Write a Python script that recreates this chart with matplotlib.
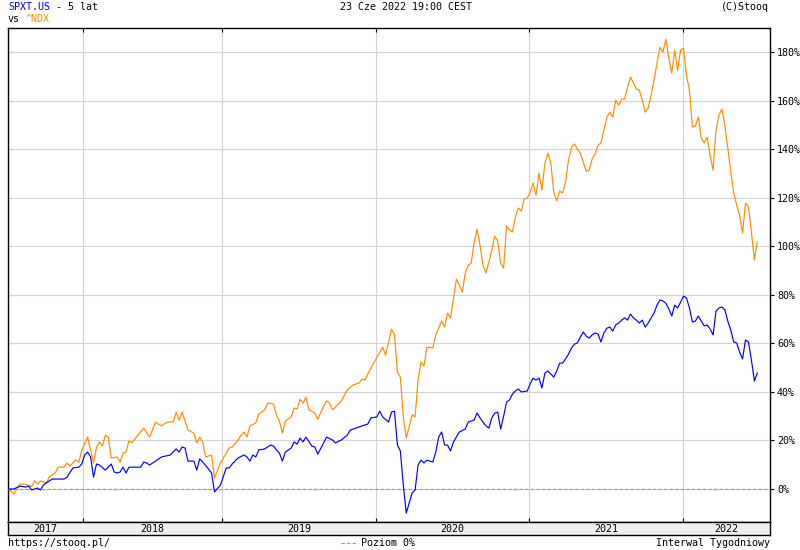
import numpy as np
import matplotlib
matplotlib.use("Agg")
import matplotlib.pyplot as plt
from matplotlib.lines import Line2D

# weekly points, x = week number since start (mid 2017), y = % change
ndx_weeks = [0, 2, 4, 6, 8, 9, 10, 11, 13, 14, 16, 17, 19, 20, 21, 23, 24, 25, 27, 29,
             30, 31, 32, 33, 34, 35, 37, 38, 39, 40, 41, 42, 44, 46, 48, 50, 52, 54, 56, 57,
             58, 59, 61, 63, 64, 65, 66, 67, 69, 70, 72, 75, 76, 78, 79, 80, 81, 82, 84, 85,
             87, 88, 90, 91, 92, 93, 94, 96, 97, 98, 99, 100, 101, 102, 104, 105, 107, 108, 109, 110,
             112, 113, 115, 117, 119, 120, 121, 123, 124, 127, 128, 130, 131, 132, 133, 134, 135, 137, 138, 139,
             140, 141, 142, 144, 145, 147, 148, 149, 150, 152, 153, 154, 155, 156, 157, 158, 159, 160, 161, 162,
             163, 164, 165, 166, 167, 168, 169, 170, 171, 172, 173, 174, 175, 176, 177, 178, 179, 180, 181, 182,
             183, 184, 185, 186, 187, 188, 189, 190, 191, 192, 193, 194, 195, 196, 197, 198, 199, 200, 201, 202,
             203, 204, 205, 206, 207, 208, 209, 210, 211, 212, 213, 214, 215, 216, 217, 218, 219, 220, 221, 222,
             223, 224, 225, 226, 227, 228, 229, 230, 231, 232, 233, 234, 235, 236, 237, 238, 239, 240, 241, 242,
             243, 244, 245, 246, 247, 248, 249, 250, 251, 252, 253, 254]
ndx_vals = [0, -2, 2, 2, 1, 3.3, 2, 3.3, 2.5, 5, 6.6, 9, 9, 10.7, 9.5, 12, 11, 16, 21.4, 10.7,
            17.3, 19.4, 17.7, 22.2, 21.4, 12.8, 13.2, 11, 14.8, 15.2, 19.8, 19, 22.2, 25, 21.4, 27.6, 26, 27.6, 27.6, 31.7,
            28.4, 31.7, 24.3, 23, 19, 21.4, 19.4, 13.2, 14, 4.5, 10.7, 16.9, 17.3, 20.2, 22.2, 23.5, 21.4, 26, 27.2, 30.9,
            32.6, 35.4, 35, 30.5, 28, 23, 28, 29.7, 33.4, 33, 37, 35.4, 37.9, 32.6, 31.3, 28.8, 34.2, 36.3, 35.4, 32.6,
            35, 36.3, 40.8, 42.9, 43.7, 45.3, 44.9, 49.9, 51.9, 58.5, 55.2, 65.9, 63.5, 48.2, 46.1, 29.7, 21, 30.5, 29.7, 44.9,
            52.3, 50.7, 58.5, 58.1, 63.5, 69.2, 66.7, 72.5, 70.5, 86.5, 84, 81.2, 89, 92.3, 93.1, 101.4, 107.1, 100.5, 92.3, 89,
            93.5, 98.5, 104.2, 102.2, 93.1, 91.1, 108.4, 106.7, 105.9, 112, 115.8, 114.5, 119.5, 119.9, 122.4, 126.1, 121.1, 130.2, 123.2, 134.3,
            138.4, 134.3, 122.4, 118.7, 122.8, 122, 126.5, 135.6, 140.9, 142.2, 140.1, 138.4, 134.7, 131, 131.4, 136, 138, 141.7, 142.6, 147.9,
            153.3, 155.3, 153.3, 160.3, 158.2, 160.7, 160.7, 165.6, 169.8, 167.3, 164.8, 164.4, 160.3, 155.3, 157, 162.3, 168.5, 175.5, 182, 180,
            185.4, 177.6, 171.4, 180.9, 172.6, 180.9, 181.7, 170.2, 164.4, 149.2, 149.6, 153.3, 144.6, 142.6, 145, 137.6, 131.4, 147.9, 154.1, 156.6,
            150, 140.5, 130.6, 122, 117, 112.9, 105.5, 117.8, 116.2, 105.9, 94.4, 101.8]

spxt_weeks = [0, 2, 4, 6, 7, 8, 10, 11, 12, 13, 15, 19, 20, 22, 24, 25, 26, 27, 28, 29,
              30, 31, 33, 34, 35, 36, 37, 38, 39, 40, 41, 45, 46, 47, 48, 50, 52, 55, 57, 58,
              59, 60, 61, 63, 64, 65, 66, 68, 69, 70, 72, 74, 75, 76, 78, 80, 81, 82, 83, 84,
              85, 87, 89, 90, 91, 92, 93, 94, 96, 97, 98, 99, 100, 101, 103, 104, 105, 107, 108, 110,
              111, 113, 115, 116, 118, 120, 122, 123, 125, 126, 127, 129, 130, 131, 132, 133, 134, 135, 136, 137,
              138, 139, 140, 141, 142, 143, 144, 145, 146, 147, 148, 149, 150, 151, 153, 155, 156, 158, 159, 160,
              161, 162, 163, 164, 165, 166, 167, 168, 169, 170, 171, 172, 173, 174, 176, 177, 178, 179, 180, 181,
              182, 183, 184, 185, 186, 187, 188, 189, 190, 191, 192, 193, 194, 195, 196, 197, 198, 199, 200, 201,
              202, 203, 204, 205, 206, 207, 208, 209, 210, 211, 212, 213, 214, 215, 216, 217, 218, 219, 220, 221,
              222, 223, 224, 225, 226, 227, 228, 229, 230, 231, 232, 233, 234, 235, 236, 237, 238, 239, 240, 241,
              242, 243, 244, 245, 246, 247, 248, 249, 250, 251, 252, 253, 254]
spxt_vals = [0, 0, 1.2, 0.8, 1.2, -0.4, 0.4, -0.4, 1.6, 2.5, 4.1, 4.1, 4.9, 8.7, 9, 10.3, 14, 15.2, 13.2, 4.9,
             10.3, 9.9, 7.8, 9, 10.3, 7, 6.6, 7, 9, 6.6, 9, 9, 11.1, 10.7, 9.9, 11.5, 13.2, 14, 16.5, 15.2,
             17.3, 16.9, 11.5, 11.5, 7.8, 12.4, 11.1, 8.2, 6.6, -1.2, 1.6, 8.7, 8.7, 10.3, 12.8, 14, 13.2, 11.5, 14, 13.2,
             16.1, 16.5, 18.1, 17.7, 16.1, 14.8, 11.5, 15.2, 16.9, 19.4, 18.5, 21, 19.4, 21.4, 17.7, 17.3, 14.4, 19, 21.4, 20.2,
             19, 20.2, 22.2, 24.3, 25.1, 26, 26.8, 29.3, 29.7, 32.1, 29.7, 27.6, 31.7, 32.1, 18.1, 15.7, 1.6, -9.9, -5.8, -1.6,
             -0.4, 9.9, 11.9, 10.7, 11.9, 11.5, 11.1, 15.2, 21.4, 23.5, 18.1, 18.1, 15.7, 19.4, 23.5, 24.7, 27.6, 28.4, 31.3, 29.3,
             27.6, 26, 25.1, 29.3, 31.3, 31.7, 24.7, 30, 35.8, 36.7, 39.1, 40.4, 41.2, 40, 40.4, 43.3, 45.7, 44.9, 45.7, 41.6,
             47.8, 48.6, 47.4, 46.1, 48.6, 51.9, 51.9, 53.6, 55.6, 58.1, 59.7, 60.2, 62.6, 64.7, 63, 62.2, 63.5, 64.3, 63.9, 60.6,
             64.3, 66.3, 66.7, 65.1, 67.6, 68.4, 69.6, 70.5, 69.6, 72.1, 70.5, 69.6, 68.4, 69.6, 66.7, 68.4, 70.5, 72.5, 75.8, 77.9,
             77.5, 76.6, 74.2, 71.3, 75.8, 74.6, 77, 79.5, 78.7, 74.6, 68.8, 69.2, 71.3, 69.2, 67.2, 67.6, 65.9, 63.5, 73.3, 74.6,
             75, 73.8, 69.2, 65.5, 60.6, 60.2, 56.4, 53.6, 61.4, 60.6, 53.2, 44.5, 47.8]

years = ["2017", "2018", "2019", "2020", "2021", "2022"]
year_starts = [25.4, 72.5, 124.7, 176.6, 228.8]   # week where each new year begins
y_ticks = [0, 20, 40, 60, 80, 100, 120, 140, 160, 180]

X_MAX = 258.3
Y_MIN, Y_MAX = -13.6, 190

BLUE = "#0000ff"
ORANGE = "#ff8c00"
GRID = "#d3d3d3"
FONT = "DejaVu Sans Mono"
FS = 7.2
plt.rcParams['font.family'] = FONT

W, H = 800, 550
fig = plt.figure(figsize=(W / 100, H / 100), dpi=100)
fig.patch.set_facecolor("white")

ax = fig.add_axes([8 / W, 1 - 522 / H, 762 / W, 494 / H])
ax.set_xlim(0, X_MAX)
ax.set_ylim(Y_MIN, Y_MAX)

ax.plot(ndx_weeks, ndx_vals, color=ORANGE, lw=0.85, zorder=3)
ax.plot(spxt_weeks, spxt_vals, color=BLUE, lw=0.85, zorder=4)
ax.axhline(0, color="#999999", lw=0.8, ls=(0, (3, 2)), zorder=2)

ax.set_yticks(y_ticks)
ax.set_yticklabels([f"{t}%" for t in y_ticks])
ax.yaxis.tick_right()
ax.tick_params(axis="y", direction="out", length=3, width=0.8, pad=2,
               labelsize=FS, colors="black")
ax.set_xticks(year_starts)
ax.tick_params(axis="x", direction="in", length=3, width=0.8, top=True, bottom=True,
               labelbottom=False)
ax.grid(True, color=GRID, lw=0.8, zorder=1)
for s in ax.spines.values():
    s.set_color("black")
    s.set_linewidth(1)

# small inward ticks on the left edge
sec = ax.secondary_yaxis("left")
sec.set_yticks(y_ticks)
sec.tick_params(direction="in", length=3, width=0.8, labelleft=False)
sec.spines["left"].set_visible(False)

# year band under the plot
bx = fig.add_axes([8 / W, 1 - 535 / H, 762 / W, 13 / H])
bx.set_facecolor("#eeeeee")
bx.set_xlim(0, X_MAX)
bx.set_ylim(0, 1)
bx.set_xticks([])
bx.set_yticks([])
for s in bx.spines.values():
    s.set_color("black")
    s.set_linewidth(1)
edges = [0] + year_starts + [X_MAX]
for i, yr in enumerate(years):
    bx.text((edges[i] + edges[i + 1]) / 2, 0.45, yr, ha="center", va="center", fontsize=FS)

# header and footer texts
cw = 0.602 * FS * 100 / 72 / W   # monospace char width in figure units
y1, y2 = 1 - 7 / H, 1 - 19 / H
x0 = 8 / W
fig.text(x0, y1, "SPXT.US", color=BLUE, fontsize=FS, va="center")
fig.text(x0 + 7 * cw, y1, " - 5 lat", color="black", fontsize=FS, va="center")
fig.text(x0, y2, "vs", color="black", fontsize=FS, va="center")
fig.text(x0 + 3 * cw, y2, "^NDX", color=ORANGE, fontsize=FS, va="center")
fig.text(406 / W, y1, "23 Cze 2022 19:00 CEST", fontsize=FS, ha="center", va="center")
fig.text(769 / W, y1, "(C)Stooq", fontsize=FS, ha="right", va="center")

yf = 1 - 543 / H
fig.text(x0, yf, "https://stooq.pl/", fontsize=FS, va="center")
fig.add_artist(Line2D([341 / W, 358 / W], [yf, yf], color="#999999", lw=0.8, ls=(0, (3, 2))))
fig.text(361 / W, yf, "Poziom 0%", fontsize=FS, va="center")
fig.text(770 / W, yf, "Interwal Tygodniowy", fontsize=FS, ha="right", va="center")

fig.savefig("out.png", dpi=100)
